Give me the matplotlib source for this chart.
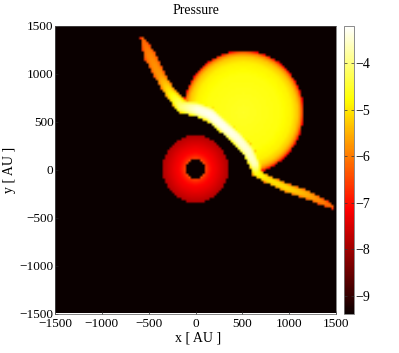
import numpy as np
import matplotlib
matplotlib.use("Agg")
import matplotlib.pyplot as plt
from matplotlib.path import Path

# Ridge (shock), AU
ridge_x = [-564, -486, -379, -272, -147, 13, 155, 297, 440, 564, 635, 653, 760, 973, 1187, 1453]
ridge_y = [1353, 1179, 970, 796, 650, 622, 570, 447, 326, 186, 47, -40, -103, -197, -266, -389]
ridge_halfwidth = [26, 68, 58, 58, 68, 78, 78, 70, 70, 68, 60, 48, 42, 46, 48, 26]
ridge_peak = [-6.2, -5.9, -5.7, -4.9, -4.0, -3.4, -3.3, -3.3, -3.4, -3.5, -3.6, -4.6, -5.0, -5.1, -5.5, -6.2]
ridge_edge = [-6.8, -6.6, -6.5, -6.0, -5.4, -5.2, -5.2, -5.1, -5.1, -5.2, -5.4, -5.9, -6.1, -6.2, -6.4, -6.8]

# Large disc, AU
disc_center = (510, 590)
disc_radius_frac = [0.0, 0.6, 0.8, 0.9, 0.96, 1.0]
disc_values = [-4.55, -4.7, -4.9, -5.3, -6.0, -7.4]
disc_radius = 645

# Ring at origin, AU
ring_radius = [100, 120, 170, 250, 352]
ring_values = [-6.3, -6.7, -7.1, -7.4, -7.85]

background = -9.39
vmin, vmax = -9.39, -3.2
grid_step = 25
x_ticks = [-1500, -1000, -500, 0, 500, 1000, 1500]
cbar_ticks = [-4, -5, -6, -7, -8, -9]

plt.rcParams["font.family"] = ["Liberation Serif", "DejaVu Serif"]
plt.rcParams["axes.unicode_minus"] = True

xs = np.arange(-1500 + grid_step / 2, 1500, grid_step)
X, Y = np.meshgrid(xs, xs)
F = np.full(X.shape, background, dtype=float)

# ring
R = np.hypot(X, Y)
m = (R >= ring_radius[0]) & (R <= ring_radius[-1])
F[m] = np.interp(R[m], ring_radius, ring_values)

# disc, clipped along the ridge
rx = np.array(ridge_x, float)
ry = np.array(ridge_y, float)
clip = np.vstack([np.column_stack([rx, ry]), [[1500, -389], [1500, 1500], [-564, 1500]]])
inside = Path(clip).contains_points(np.column_stack([X.ravel(), Y.ravel()])).reshape(X.shape)
Rd = np.hypot(X - disc_center[0], Y - disc_center[1]) / disc_radius
m = (Rd <= 1) & inside
F[m] = np.interp(Rd[m], disc_radius_frac, disc_values)

# ridge
seg = np.hypot(np.diff(rx), np.diff(ry))
s = np.r_[0, np.cumsum(seg)]
ss = np.linspace(0, s[-1], 1500)
px = np.interp(ss, s, rx)
py = np.interp(ss, s, ry)
pw = np.interp(ss, s, ridge_halfwidth)
pk = np.interp(ss, s, ridge_peak)
pe = np.interp(ss, s, ridge_edge)
best = np.full(X.shape, np.inf)
for a, b, w, k, e in zip(px, py, pw, pk, pe):
    d = np.hypot(X - a, Y - b) / w
    u = d < best
    best[u] = d[u]
    mm = u & (d <= 1)
    F[mm] = k + (e - k) * d[mm] ** 3

fig = plt.figure(figsize=(3.99, 3.53), dpi=100)
W, H = 399, 353
ax = fig.add_axes([55 / W, 1 - 313.5 / H, 281 / W, 287.5 / H])
im = ax.imshow(F, origin="lower", extent=[-1500, 1500, -1500, 1500], cmap="hot",
               vmin=vmin, vmax=vmax, interpolation="bilinear", aspect="auto")
ax.set_xticks(x_ticks)
ax.set_yticks(x_ticks)
ax.tick_params(direction="in", length=2.5, width=0.5, labelsize=9.5, pad=1, color="#222222")
ax.tick_params(axis="x", pad=3.5)
for sp in ax.spines.values():
    sp.set_linewidth(0.5)
    sp.set_color("#555555")
fig.text(196 / W, 1 - 11 / H, "Pressure", ha="center", va="center", fontsize=10)
fig.text(198 / W, 1 - 338 / H, "x [ AU ]", ha="center", va="center", fontsize=10)
fig.text(10 / W, 1 - 170 / H, "y [ AU ]", ha="center", va="center", rotation=90, fontsize=10)

cax = fig.add_axes([343.5 / W, 1 - 314 / H, 10.5 / W, 288 / H])
cb = fig.colorbar(im, cax=cax)
cb.set_ticks(cbar_ticks)
cax.tick_params(direction="in", length=2.5, width=0.5, labelsize=10, pad=1, color="#333333", left=True, right=True)
cb.outline.set_linewidth(0.6)
cb.outline.set_edgecolor("#777777")

fig.savefig("out.png", dpi=100)
